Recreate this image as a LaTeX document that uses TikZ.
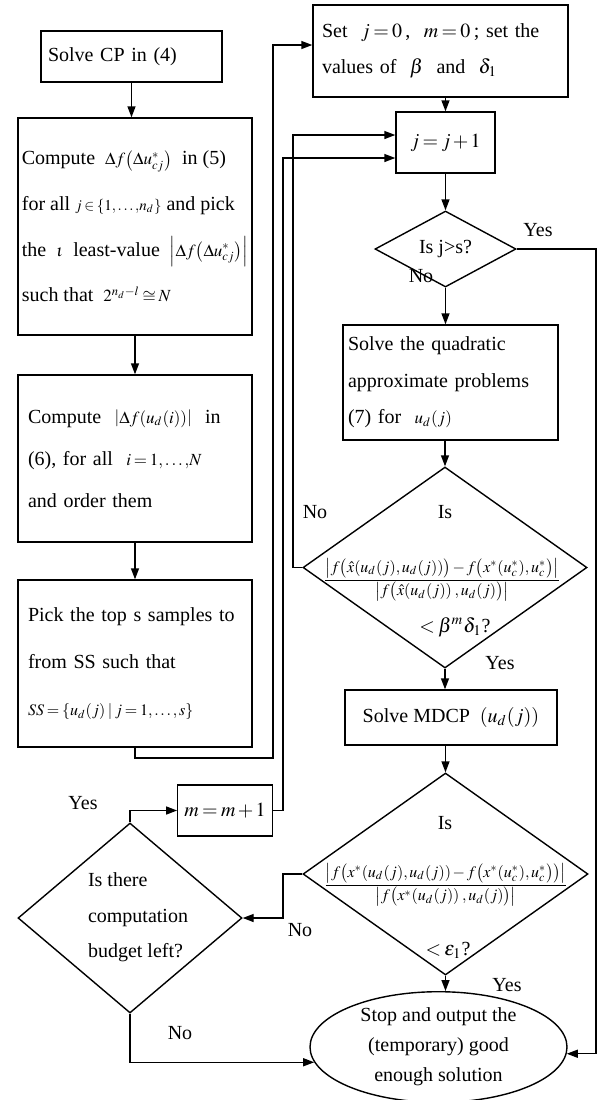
\documentclass[tikz,border=0pt]{standalone}
\usepackage{mathptmx}
\usepackage{fontspec}
\setmainfont{Liberation Serif}
\usetikzlibrary{arrows.meta,positioning,shapes.geometric}

% text and math sizes
\newcommand\setfs[1]{\fontsize{10}{#1}\selectfont}
\newcommand\mth[2][8.5]{{\fontsize{#1}{10}\selectfont$#2$}}
\thickmuskip=3mu plus 2mu
\medmuskip=2mu plus 1mu

\begin{document}
\begin{tikzpicture}[
    x=0.5pt, y=-0.5pt,
    >={Triangle[length=5.5pt,width=4pt]},
    font=\setfs{12pt},
    line width=0.7pt,
    block/.style={draw, rectangle, inner ysep=2pt, align=left},
    cond/.style={draw, diamond, inner sep=0pt, aspect=1.4},
    term/.style={draw, ellipse, inner sep=0pt, align=center},
    txt/.style={inner sep=0pt, align=center},
    lbl/.style={inner sep=0pt},
    arw/.style={->},
  ]
  \useasboundingbox (0,0) rectangle (598,1100);

  % Left column
  \node[block, minimum width=90.5pt, minimum height=25.5pt, text width=83.5pt,
    inner xsep=3.5pt] (cp) at (131.5,56.5) {Solve CP in (4)};
  \node[block, minimum width=117pt, minimum height=108.5pt, inner xsep=2pt,
    font=\setfs{22.8pt}] (comp) at (135,226.5)
    {Compute \ \mth{\Delta f\bigl(\Delta u^{*}_{cj}\bigr)} \ in (5)\\
     for all \mth[7.5]{j\in\{1{,}\ldots{,}n_d\}} and pick\\
     the \ \mth{\iota} \ least-value \ \mth{\left|\Delta f\bigl(\Delta u^{*}_{cj}\bigr)\right|}\\
     such that \ \mth{2^{n_d-l}\cong N}};
  \node[block, minimum width=117pt, minimum height=83.5pt, text width=107pt,
    inner xsep=5pt, font=\setfs{21pt}] (order) at (135,458.5)
    {Compute \ \mth{\left|\Delta f(u_d(i))\right|} \ in\\
     (6), for all \ \mth{i=1{,}\ldots{,}N}\\
     and order them};
  \node[block, minimum width=117pt, minimum height=83.5pt, text width=107pt,
    inner xsep=5pt, font=\setfs{23.5pt}] (pick) at (135,663.5)
    {Pick the top s samples to\\
     from SS such that\\
     \mth[8]{SS=\{u_d(j)\mid j=1{,}\ldots{,}\,s\}}};

  % Right column
  \node[block, minimum width=127.5pt, minimum height=46pt, text width=118.5pt,
    inner xsep=4.5pt, font=\setfs{18pt}] (init) at (440.5,51)
    {Set \ $j=0$\,, \ $m=0$\,; set the\\
     values of \ $\beta$ \ and \ $\delta_1$};
  \node[block, align=center, minimum width=49.5pt, minimum height=30.5pt] (inc)
    at (445.5,142.5) {$j=j+1$};
  \node[cond, minimum width=70.5pt, minimum height=38pt] (chk) at (445.5,249) {Is j>s?};
  \node[block, minimum width=107.5pt, minimum height=57.5pt, text width=102.5pt,
    inner xsep=2.5pt, font=\setfs{18.2pt}] (quad) at (450.5,382.5)
    {Solve the quadratic\\
     approximate problems\\
     (7) for \ \mth{u_d(j)}};
  \node[cond, minimum width=142pt, minimum height=100.5pt] (conda) at (445,567.5) {};
  \node[block, align=center, minimum width=106pt, minimum height=27.5pt] (mdcp)
    at (451,717.5) {Solve MDCP \ $(u_d(j))$};
  \node[cond, minimum width=142.5pt, minimum height=101pt] (condb) at (445.5,874) {};
  \node[term, minimum width=128.5pt, minimum height=49pt, font=\setfs{15pt}] (stop)
    at (438.5,1047) {Stop and output the\\(temporary) good\\enough solution};

  % Budget check
  \node[cond, minimum width=112pt, minimum height=95pt] (budget) at (130,918) {};
  \node[txt, align=left, font=\setfs{17.8pt}] (budgettxt) at (138,917.5)
    {Is there\\computation\\budget left?};
  \node[block, align=center, minimum width=45pt, minimum height=25.5pt] (incm)
    at (225,810.5) {$m=m+1$};

  % Texts of the two tests
  \node[txt] (condais) at (445,512) {Is};
  \node[txt] (condafr) at (442,580) {\mth[8]{\displaystyle\frac{\left|f\bigl(\hat{x}(u_d(j),u_d(j))\bigr)-f\bigl(x^{*}(u_c^{*}),u_c^{*}\bigr)\right|}{\left|f\bigl(\hat{x}(u_d(j))\;,u_d(j)\bigr)\right|}}};
  \node[txt] (condalt) at (455,627) {$<\beta^{m}\delta_1$?};
  \node[txt] (condbis) at (445,823) {Is};
  \node[txt] (condbfr) at (446,885) {\mth[8]{\displaystyle\frac{\left|f\bigl(x^{*}(u_d(j),u_d(j))-f\bigl(x^{*}(u_c^{*}),u_c^{*}\bigr)\bigr)\right|}{\left|f\bigl(x^{*}(u_d(j))\;,u_d(j)\bigr)\right|}}};
  \node[txt] (condblt) at (448,950) {$<\varepsilon_1$?};

  % Main flow
  \draw[arw] (cp.south) -- (cp.south |- comp.north);
  \draw[arw] (comp) -- (order);
  \draw[arw] (order) -- (pick);
  \coordinate (fbx) at (273,758);
  \draw[arw] (pick.south) |- (fbx) |- ([yshift=3pt]init.west);
  \draw[arw] (inc.north |- init.south) -- (inc.north);
  \draw[arw] (inc) -- (chk);
  \draw[arw] (chk.south) -- (chk.south |- quad.north);
  \draw[arw] (conda.north |- quad.south) -- (conda.north);
  \draw[arw] (conda.south) -- (conda.south |- mdcp.north);
  \draw[arw] (condb.north |- mdcp.south) -- (condb.north);
  \draw[arw] (condb.south) -- (condb.south |- stop.north);

  % Loops
  \coordinate (yesx) at (596,0);
  \draw[arw] (chk.east) -- (chk.east -| yesx) |- (stop.357);
  \coordinate (loopa) at (293,135);
  \draw[arw] (conda.west) -| (loopa) -- (loopa -| inc.west);
  \coordinate (loopb) at (283,158);
  \draw[arw] (incm.east) -| (loopb) -- (loopb -| inc.west);
  \draw[arw] (condb.west) -- (condb.west -| loopb) |- (budget.east);
  \draw[arw] (budget.north) |- (incm.west);
  \draw[arw] (budget.south) |- (stop.187);

  % Labels
  \node[lbl] (chkyes) at (538,230) {Yes};
  \node[lbl] (chkno) at (421,276) {No};
  \node[lbl] (condano) at (315,512) {No};
  \node[lbl] (condayes) at (500,663) {Yes};
  \node[lbl] (condbno) at (300,930) {No};
  \node[lbl] (condbyes) at (507,985) {Yes};
  \node[lbl] (budgetyes) at (83,803) {Yes};
  \node[lbl] (budgetno) at (180,1033) {No};
\end{tikzpicture}
\end{document}
